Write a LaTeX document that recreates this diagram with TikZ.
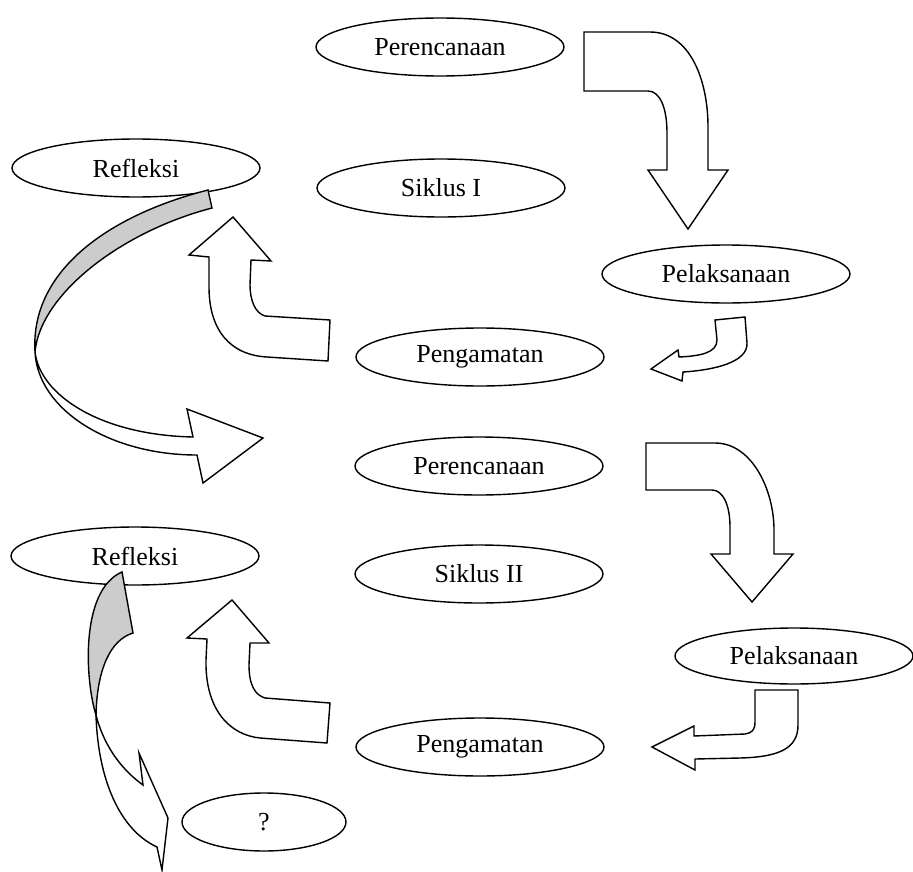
\documentclass[tikz,border=0pt]{standalone}
\usepackage{fontspec}
\setmainfont{Liberation Serif}
\usetikzlibrary{shapes.geometric}

\begin{document}
\begin{tikzpicture}[
    x = 0.02cm,
    y = -0.02cm,
    stage/.style = {ellipse, draw=black, line width=0.8pt, fill=white,
    minimum width=4.96cm, minimum height=1.16cm, inner sep=0pt,
    font=\fontsize{14.8}{18}\selectfont},
    blockarrow/.style = {draw=black, line width=0.8pt, fill=white,
    line join=miter},
    backside/.style = {draw=black, line width=0.8pt, fill=black!20},
]

\useasboundingbox (0,0) rectangle (913,872);

\node[stage] (per_1) at (440,47){Perencanaan};
\node[stage] (ref_1) at (136,168){Refleksi};
\node[stage] (sik_1) at (441,188){Siklus I};
\node[stage] (pel_1) at (726,274){Pelaksanaan};
\node[stage] (pen_1) at (480,357){Pengamatan};
\node[stage] (per_2) at (479,466){Perencanaan};
\node[stage] (ref_2) at (135,556){Refleksi};
\node[stage] (sik_2) at (479,574){Siklus II};
\node[stage, minimum width=4.76cm, minimum height=1.12cm] (pel_2) at (794,656){Pelaksanaan};
\node[stage] (pen_2) at (480,747){Pengamatan};
\node[stage, minimum width=3.28cm] (q_1) at (264,822){?};

% siklus I
\draw[blockarrow] (584,32) -- (650,32) .. controls (690,32) and (708,80) .. (708,127)
    -- (708,170) -- (728,170) -- (688,229) -- (648,170) -- (667,170) -- (667,133)
    .. controls (667,108) and (660,91) .. (648,91) -- (584,91) -- cycle;
\draw[blockarrow] (715,320) -- (745,317) -- (747,343) .. controls (748,362) and (715,370) .. (683,372)
    -- (682,381) -- (651,369) -- (678,350) -- (679,357)
    .. controls (700,356) and (717,353) .. (717,340) -- cycle;
\draw[blockarrow] (233,217) -- (189,255) -- (209,257) -- (209,287)
    .. controls (209,330) and (230,355) .. (267,357) -- (328,361) -- (330,320) -- (265,316)
    .. controls (255,313) and (250,300) .. (250,285) -- (251,260) -- (271,261) -- cycle;
\draw[backside] (208,190) -- (212,208) .. controls (120,232) and (40,295) .. (35,352)
    .. controls (30,270) and (110,215) .. (208,190) -- cycle;
\draw[blockarrow] (35,352) .. controls (40,395) and (100,435) .. (193,437) -- (187,409)
    -- (263,438) -- (203,483) -- (197,455) .. controls (110,455) and (38,410) .. (35,352) -- cycle;

% siklus II
\draw[blockarrow] (646,443) -- (715,443) .. controls (752,443) and (774,490) .. (774,530)
    -- (774,554) -- (793,554) -- (752,602) -- (711,554) -- (730,554) -- (730,527)
    .. controls (730,505) and (723,490) .. (712,490) -- (646,490) -- cycle;
\draw[blockarrow] (755,690) -- (798,690) -- (798,725) .. controls (798,748) and (780,757) .. (740,758)
    -- (695,759) -- (695,770) -- (652,747) -- (694,726) -- (694,736) -- (745,734)
    .. controls (752,733) and (755,730) .. (755,722) -- cycle;
\draw[blockarrow] (232,600) -- (187,638) -- (207,639) -- (206,660)
    .. controls (205,710) and (230,735) .. (260,738) -- (327,743) -- (330,703) -- (265,698)
    .. controls (255,695) and (249,685) .. (249,665) -- (250,643) -- (269,643) -- cycle;
\draw[backside] (122,572) -- (133,633) .. controls (110,640) and (97,670) .. (96,715)
    .. controls (85,680) and (80,590) .. (122,572) -- cycle;
\draw[blockarrow] (96,715) .. controls (105,750) and (125,772) .. (143,785) -- (139,753)
    -- (168,818) -- (162,870) -- (157,847) .. controls (120,830) and (98,780) .. (96,715) -- cycle;

\end{tikzpicture}
\end{document}
